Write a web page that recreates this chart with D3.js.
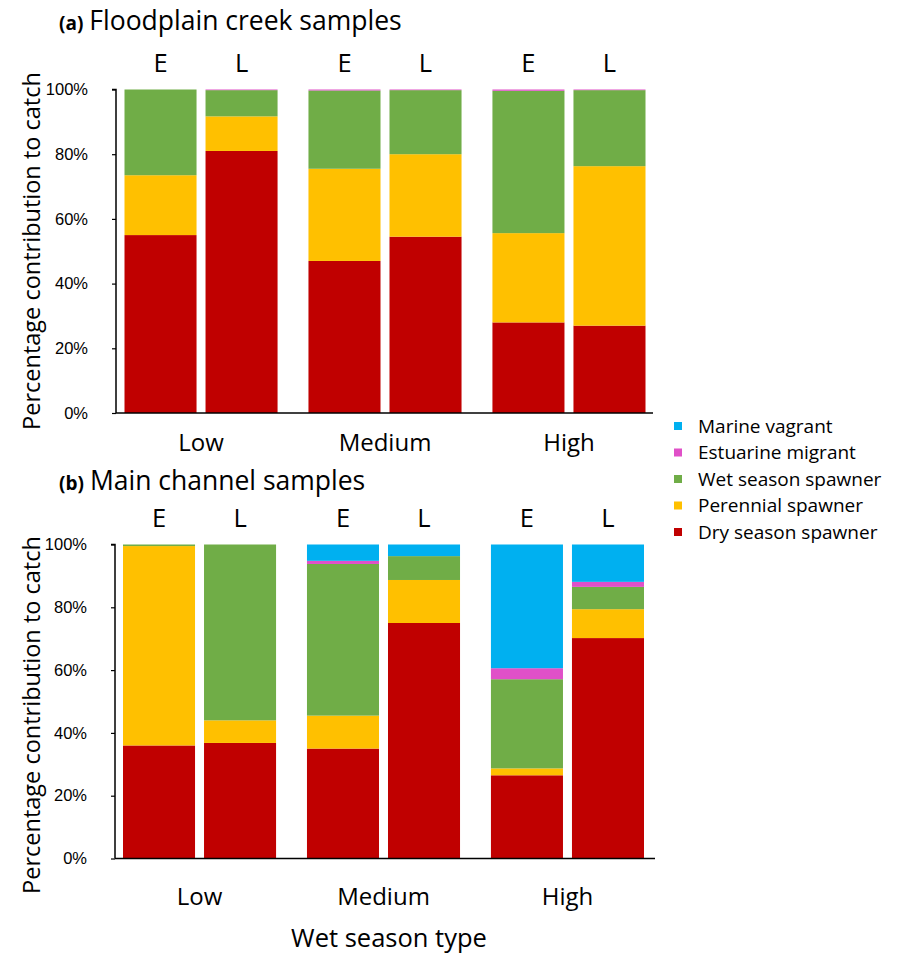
<!DOCTYPE html>
<html><head><meta charset="utf-8">
<script src="https://cdn.jsdelivr.net/npm/d3@7"></script>
<style>body{margin:0;background:#fff}svg{display:block}</style>
</head><body>
<svg id="chart" width="902" height="953"></svg>
<script>
const categories = ["Low", "Medium", "High"];
const periods = ["E", "L"];
const seriesNames = ["Dry season spawner", "Perennial spawner", "Wet season spawner", "Estuarine migrant", "Marine vagrant"];
const seriesColors = ["#C00000", "#FFC000", "#70AD47", "#E050C8", "#00B0F0"];
const yTicks = [0, 20, 40, 60, 80, 100];

// Panel (a) Floodplain creek samples: order Low E, Low L, Medium E, Medium L, High E, High L
const dryA = [55, 81, 47, 54.5, 28, 27];
const perA = [18.5, 10.7, 28.5, 25.5, 27.6, 49.3];
const wetA = [26.5, 8.1, 24.2, 19.8, 44, 23.5];
const estA = [0, 0.2, 0.3, 0.2, 0.4, 0.2];
const marA = [0, 0, 0, 0, 0, 0];

// Panel (b) Main channel samples
const dryB = [36, 36.8, 35, 75, 26.5, 70.2];
const perB = [63.5, 7.2, 10.5, 13.7, 2.2, 9.2];
const wetB = [0.5, 56, 48.3, 7.6, 28.4, 7.1];
const estB = [0, 0, 1, 0, 3.5, 1.6];
const marB = [0, 0, 5.2, 3.7, 39.4, 11.9];

const FONT = "'Open Sans', 'Noto Sans', sans-serif";
const svg = d3.select("#chart");

function buildRows(arrs) {
  const rows = [];
  let i = 0;
  categories.forEach(c => periods.forEach(p => {
    const r = {cat: c, per: p};
    seriesNames.forEach((s, k) => r[s] = arrs[k][i]);
    rows.push(r); i++;
  }));
  return rows;
}

function panel(cfg) {
  const g = svg.append("g");
  const y = d3.scaleLinear().domain([0, 100]).range([cfg.y0, cfg.y100]);
  const x0 = d3.scaleBand().domain(categories).range([cfg.xStart, cfg.xEnd]).paddingInner(0.168).paddingOuter(0);
  const x1 = d3.scaleBand().domain(periods).range([0, x0.bandwidth()]).paddingInner(0.111).paddingOuter(0);
  const rows = buildRows(cfg.data);
  const stack = d3.stack().keys(seriesNames)(rows);

  stack.forEach((layer, k) => {
    g.append("g").attr("fill", seriesColors[k])
      .selectAll("rect").data(layer).join("rect")
      .attr("x", d => x0(d.data.cat) + x1(d.data.per))
      .attr("width", x1.bandwidth())
      .attr("y", d => y(d[1]))
      .attr("height", d => Math.max(0, y(d[0]) - y(d[1])));
  });

  // y axis
  const ya = g.append("g").attr("transform", `translate(${cfg.axisX},0)`)
    .call(d3.axisLeft(y).tickValues(yTicks).tickFormat(d => d + "%").tickSize(4).tickPadding(24));
  ya.select(".domain").attr("stroke", "#000").attr("stroke-width", 1.5).attr("d", `M-4,${cfg.y100}H0V${cfg.y0}`);
  ya.selectAll(".tick line").attr("stroke", "#000").attr("stroke-width", 1.2);
  ya.selectAll(".tick text").attr("font-family", "'Liberation Sans', Arial, sans-serif").attr("font-size", 16.5).attr("fill", "#000");

  // x axis line
  g.append("line").attr("x1", cfg.axisX).attr("x2", cfg.axisEnd)
    .attr("y1", cfg.y0).attr("y2", cfg.y0).attr("stroke", "#000").attr("stroke-width", 1.5);

  // E / L labels
  categories.forEach(c => periods.forEach(p => {
    g.append("text").attr("x", x0(c) + x1(p) + x1.bandwidth() / 2).attr("y", cfg.elY)
      .attr("text-anchor", "middle").attr("font-family", FONT).attr("font-size", 25.5).attr("fill", "#000").text(p);
  }));
  // category labels
  categories.forEach(c => {
    g.append("text").attr("x", x0(c) + x0.bandwidth() / 2).attr("y", cfg.catY)
      .attr("text-anchor", "middle").attr("font-family", FONT).attr("font-size", 24).attr("fill", "#000").text(c);
  });
  // y title
  g.append("text").attr("transform", `translate(${cfg.yTitleX},${cfg.yTitleY}) rotate(-90)`)
    .attr("text-anchor", "middle").attr("font-family", FONT).attr("font-size", 23.5).attr("fill", "#000")
    .text("Percentage contribution to catch");
  // panel title
  const t = g.append("text").attr("x", 59).attr("y", cfg.titleY).attr("font-family", FONT).attr("fill", "#000");
  t.append("tspan").attr("font-weight", "bold").attr("font-size", 19).text(cfg.tag);
  t.append("tspan").attr("font-size", 26.5).attr("dx", 6).text(cfg.title);
}

panel({data: [dryA, perA, wetA, estA, marA], y0: 413, y100: 89.5, xStart: 124.5, xEnd: 645.5,
  axisX: 116, axisEnd: 653, elY: 72, catY: 451, yTitleX: 40, yTitleY: 251, titleY: 30,
  tag: "(a)", title: "Floodplain creek samples"});
panel({data: [dryB, perB, wetB, estB, marB], y0: 858.5, y100: 544.5, xStart: 123, xEnd: 644,
  axisX: 115, axisEnd: 655, elY: 527, catY: 905, yTitleX: 40, yTitleY: 715, titleY: 490,
  tag: "(b)", title: "Main channel samples"});

// x title
svg.append("text").attr("x", 389).attr("y", 947).attr("text-anchor", "middle")
  .attr("font-family", FONT).attr("font-size", 25.5).attr("fill", "#000").text("Wet season type");

// legend (top to bottom: Marine vagrant ... Dry season spawner)
const legendOrder = seriesNames.map((s, k) => ({name: s, color: seriesColors[k]})).reverse();
const lg = svg.append("g");
legendOrder.forEach((d, i) => {
  const yy = 426 + i * 26.5;
  lg.append("rect").attr("x", 674).attr("y", yy - 4).attr("width", 8).attr("height", 8).attr("fill", d.color);
  lg.append("text").attr("x", 698).attr("y", yy).attr("dy", "0.35em")
    .attr("font-family", FONT).attr("font-size", 19).attr("fill", "#000").text(d.name);
});
</script>
</body></html>
